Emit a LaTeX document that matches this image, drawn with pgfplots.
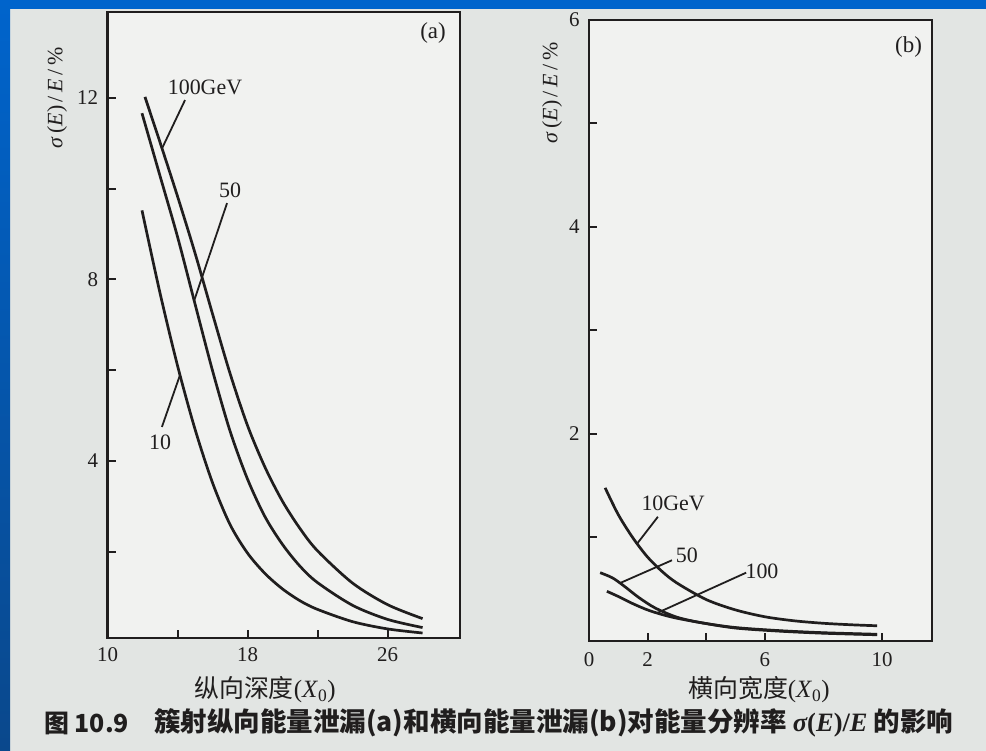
\documentclass[border=0pt]{standalone}
\usepackage{pgfplots}
\pgfplotsset{compat=1.18}
\usepackage{graphicx}
\usepackage{fontspec}
\setmainfont{Liberation Serif}
\newfontfamily\cjk{Noto Sans CJK SC}

\definecolor{paper}{RGB}{226,229,227}
\definecolor{sheet}{RGB}{241,242,240}
\definecolor{ink}{RGB}{32,30,30}
\definecolor{slideblue}{RGB}{0,100,204}
\definecolor{slideblue2}{RGB}{10,72,140}

\pgfplotsset{
  panel/.style={
    scale only axis, clip=false,
    axis line style={ink, line width=2.2bp},
    tick style={ink, line width=2bp},
    tick align=inside, tick pos=left,
    major tick length=8bp,
    ticklabel style={font=\fontsize{21}{21}\selectfont, text=ink},
    xticklabel style={yshift=-6bp},
    yticklabel style={xshift=-6bp},
    axis background/.style={fill=sheet},
  },
  curve/.style={ink, line width=2.7bp, smooth, no markers},
}
\tikzset{
  lead/.style={ink, line width=1.8bp},
  tag/.style={font=\fontsize{22}{22}\selectfont, text=ink, inner sep=0pt},
}

\begin{document}
\begin{tikzpicture}[x=1bp,y=1bp]
\useasboundingbox (0,0) rectangle (986,751);
% page and slide frame
\fill[paper] (0,0) rectangle (986,751);
\fill[slideblue] (0,742) rectangle (986,751);
\shade[top color=slideblue, bottom color=slideblue2] (0,0) rectangle (10,751);

% (a) longitudinal leakage
\begin{axis}[panel,
  at={(107.5bp,113bp)}, anchor=south west,
  width=352.5bp, height=626bp,
  xmin=10, xmax=30.14, ymin=0.1, ymax=13.89,
  xtick={10,14,18,22,26}, xticklabels={10,,18,,26},
  ytick={2,4,6,8,10,12}, yticklabels={,4,,8,,12},
]
% 100 GeV
\addplot[curve] coordinates {(12.14,12.02) (13,11.02) (14,9.83) (15,8.58) (16,7.24) (17,5.93) (18,4.78) (19,3.86) (20,3.11) (21,2.51) (22,2.02) (24,1.31) (26,0.835) (28,0.527)};
% 50 GeV
\addplot[curve] coordinates {(11.97,11.66) (13,10.28) (14,8.94) (15,7.46) (16,5.99) (17,4.66) (18,3.60) (19,2.77) (20,2.16) (21,1.68) (22,1.32) (24,0.82) (26,0.51) (28,0.33)};
% 10 GeV
\addplot[curve] coordinates {(11.97,9.52) (13,7.70) (14,6.10) (15,4.70) (16,3.52) (17,2.60) (18,1.97) (19,1.52) (20,1.18) (21,0.92) (22,0.73) (24,0.46) (26,0.30) (28,0.21)};
\node[tag] at (axis cs:15.57,12.24) {100GeV};
\draw[lead] (axis cs:14.43,11.95) -- (axis cs:13.11,10.88);
\node[tag] at (axis cs:17.0,9.97) {50};
\draw[lead] (axis cs:16.83,9.68) -- (axis cs:14.95,7.53);
\node[tag] at (axis cs:13.0,4.42) {10};
\draw[lead] (axis cs:13.11,4.75) -- (axis cs:14.14,5.89);
\node[tag, font=\fontsize{23}{23}\selectfont] at (axis cs:28.6,13.43) {(a)};
\end{axis}

% (b) lateral leakage
\begin{axis}[panel,
  at={(589bp,110bp)}, anchor=south west,
  width=343bp, height=621bp,
  xmin=0, xmax=11.7, ymin=0, ymax=6,
  xtick={0,2,4,6,10}, xticklabels={0,2,,6,10},
  ytick={1,2,3,4,5,6}, yticklabels={,2,,4,,6},
  xticklabel style={yshift=-2bp},
]
% 10 GeV
\addplot[curve] coordinates {(0.55,1.48) (1.0,1.22) (1.5,0.995) (2.0,0.81) (2.5,0.67) (3.0,0.56) (4.0,0.40) (5.0,0.30) (6.0,0.234) (7.0,0.195) (8.0,0.171) (9.0,0.156) (9.83,0.147)};
% 50 GeV
\addplot[curve] coordinates {(0.38,0.66) (0.8,0.61) (1.2,0.53) (1.7,0.42) (2.25,0.32) (3.0,0.23) (3.86,0.175) (5.0,0.13) (6.5,0.10) (8.0,0.08) (9.83,0.065)};
% 100 GeV
\addplot[curve] coordinates {(0.61,0.48) (1.0,0.43) (1.5,0.36) (2.0,0.30) (2.5,0.255) (3.0,0.22) (3.86,0.175) (5.0,0.125) (6.5,0.095) (8.0,0.075) (9.83,0.06)};
\node[tag] at (axis cs:2.87,1.33) {10GeV};
\draw[lead] (axis cs:2.35,1.20) -- (axis cs:1.64,0.94);
\node[tag] at (axis cs:3.34,0.83) {50};
\draw[lead] (axis cs:2.83,0.78) -- (axis cs:1.06,0.56);
\node[tag] at (axis cs:5.9,0.67) {100};
\draw[lead] (axis cs:5.36,0.66) -- (axis cs:2.32,0.27);
\node[tag, font=\fontsize{23}{23}\selectfont] at (axis cs:10.9,5.74) {(b)};
\end{axis}

% axis titles
\node[rotate=90, text=ink, font=\fontsize{22}{22}\selectfont] at (57,653)
  {\textit{σ}\,(\textit{E})\,/\,\textit{E}\,/\,\%};
\node[rotate=90, text=ink, font=\fontsize{22}{22}\selectfont] at (552,658)
  {\textit{σ}\,(\textit{E})\,/\,\textit{E}\,/\,\%};
\node[text=ink, font=\fontsize{25}{25}\selectfont] at (265,61)
  {{\cjk 纵向深度}(\textit{X}\textsubscript{0})};
\node[text=ink, font=\fontsize{25}{25}\selectfont] at (759,61)
  {{\cjk 横向宽度}(\textit{X}\textsubscript{0})};

% figure caption
\node[anchor=west, text=ink, inner sep=0pt, font=\fontsize{25}{25}\selectfont] at (44,28)
  {\cjk\bfseries 图 10.9};
\node[anchor=west, text=ink, inner sep=0pt, font=\fontsize{25}{25}\selectfont] at (154,28)
  {\resizebox{799bp}{!}{\cjk\bfseries 簇射纵向能量泄漏(a)和横向能量泄漏(b)对能量分辨率
   {\rmfamily\bfseries\itshape σ}{\rmfamily\bfseries (\textit{E})/\textit{E}} 的影响}};
\end{tikzpicture}
\end{document}
